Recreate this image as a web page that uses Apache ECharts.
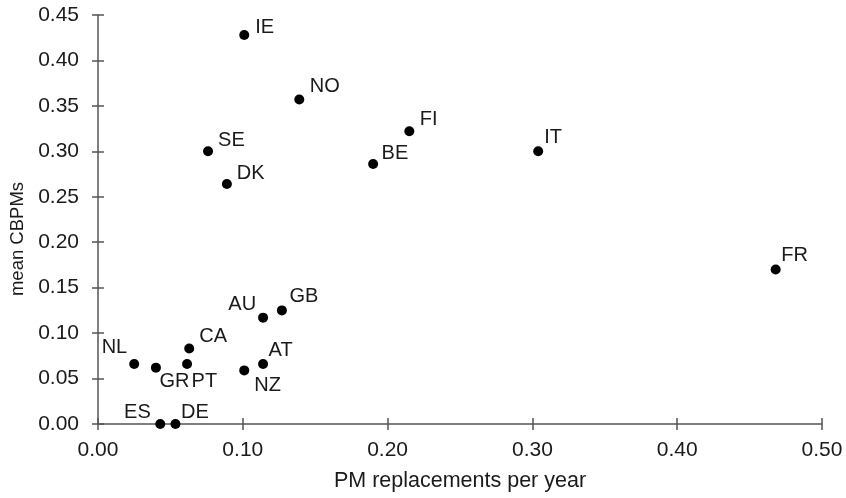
<!DOCTYPE html>
<html>
<head>
<meta charset="utf-8">
<script src="https://cdn.jsdelivr.net/npm/echarts@6/dist/echarts.min.js"></script>
<style>
html,body{margin:0;padding:0;background:#fff;}
#chart{width:846px;height:498px;}
</style>
</head>
<body>
<div id="chart"></div>
<script>
// ---- data ----
const countries = ['IE','NO','SE','DK','BE','FI','IT','FR','NL','GR','PT','CA','AU','GB','AT','NZ','ES','DE'];
const pmReplacements = [0.101,0.139,0.076,0.089,0.190,0.215,0.304,0.468,0.025,0.040,0.0615,0.063,0.114,0.127,0.114,0.101,0.043,0.0535];
const meanCBPMs = [0.428,0.357,0.300,0.264,0.286,0.322,0.300,0.170,0.066,0.062,0.066,0.083,0.117,0.125,0.066,0.059,0.000,0.000];
const xTicks = ['0.00','0.10','0.20','0.30','0.40','0.50'];
const yTicks = ['0.00','0.05','0.10','0.15','0.20','0.25','0.30','0.35','0.40','0.45'];

// ---- label placement (style, not data): [align, dx, dy] from dot centre ----
const labelPlacement = {
  IE:['left',11,-8], NO:['left',10.5,-13.5], SE:['left',10,-11], DK:['left',10,-11],
  BE:['left',8.5,-10.5], FI:['left',10.5,-11.5], IT:['left',6,-14], FR:['left',5.5,-14],
  NL:['right',-7,-16.5], GR:['left',3.5,13.5], PT:['left',4.5,17], CA:['left',10,-12.5],
  AU:['right',-7,-13.5], GB:['left',7.5,-13.5], AT:['left',5.5,-14], NZ:['left',10,15.5],
  ES:['right',-9.5,-12], DE:['left',5.5,-12]
};

const FONT = '"Liberation Sans", Arial, Helvetica, sans-serif';
const TXT = '#1a1a1a';
const AXC = '#555555';
const DOT = 10;

const points = countries.map((c, i) => {
  const p = labelPlacement[c];
  return {
    name: c,
    value: [pmReplacements[i], meanCBPMs[i]],
    label: { align: p[0], verticalAlign: 'middle', position: [DOT / 2 + p[1], DOT / 2 + p[2]] }
  };
});

const chart = echarts.init(document.getElementById('chart'), null, {renderer: 'canvas'});

const xBase = {
  type: 'value', min: 0, max: 0.5, interval: 0.1,
  position: 'bottom', splitLine: {show: false}
};
const yBase = {
  type: 'value', min: 0, max: 0.45, interval: 0.05,
  position: 'left', splitLine: {show: false}
};

chart.setOption({
  animation: false,
  backgroundColor: '#ffffff',
  grid: {left: 98, right: 24, top: 15, bottom: 74, containLabel: false},
  xAxis: [
    Object.assign({}, xBase, {
      name: 'PM replacements per year',
      nameLocation: 'middle',
      nameGap: 46,
      nameTextStyle: {fontFamily: FONT, fontSize: 21.5, color: TXT},
      axisLine: {show: true, onZero: false, lineStyle: {color: AXC, width: 1.5}},
      axisTick: {show: true, inside: false, length: 6, lineStyle: {color: AXC, width: 1.5}},
      axisLabel: {
        margin: 16, fontFamily: FONT, fontSize: 21, color: TXT,
        formatter: (v) => xTicks[Math.round(v * 10)]
      }
    }),
    Object.assign({}, xBase, {
      axisLine: {show: false, onZero: false},
      axisTick: {show: true, inside: true, length: 6, lineStyle: {color: AXC, width: 1.5}},
      axisLabel: {show: false}
    })
  ],
  yAxis: [
    Object.assign({}, yBase, {
      name: 'mean CBPMs',
      nameLocation: 'middle',
      nameGap: 66,
      nameRotate: 90,
      nameTextStyle: {fontFamily: FONT, fontSize: 18.5, color: TXT, padding: [0, 39, 0, 0]},
      axisLine: {show: true, onZero: false, lineStyle: {color: AXC, width: 1.5}},
      axisTick: {show: true, inside: false, length: 6, lineStyle: {color: AXC, width: 1.5}},
      axisLabel: {
        margin: 19, fontFamily: FONT, fontSize: 21, color: TXT,
        formatter: (v) => yTicks[Math.round(v * 20)]
      }
    }),
    Object.assign({}, yBase, {
      axisLine: {show: false, onZero: false},
      axisTick: {show: true, inside: true, length: 6, lineStyle: {color: AXC, width: 1.5}},
      axisLabel: {show: false}
    })
  ],
  series: [{
    type: 'scatter',
    xAxisIndex: 0,
    yAxisIndex: 0,
    symbol: 'circle',
    symbolSize: DOT,
    itemStyle: {color: '#000000', opacity: 1},
    label: {
      show: true,
      formatter: (p) => p.name,
      fontFamily: FONT,
      fontSize: 20,
      color: TXT
    },
    labelLayout: {hideOverlap: false},
    emphasis: {disabled: true},
    data: points
  }]
});
</script>
</body>
</html>
